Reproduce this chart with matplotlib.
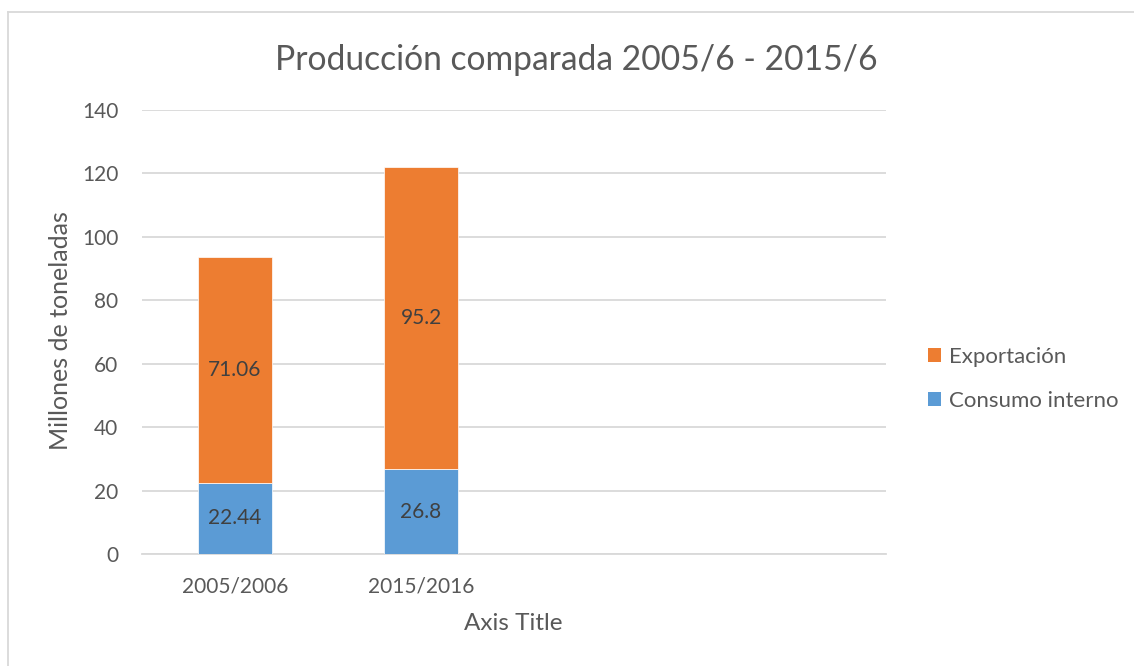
import matplotlib
matplotlib.use("Agg")
import matplotlib.pyplot as plt
from matplotlib.patches import Patch
from matplotlib.lines import Line2D

categories = ["2005/2006", "2015/2016", "", ""]
consumo = [22.44, 26.8]
exportacion = [71.06, 95.2]
yticks = [0, 20, 40, 60, 80, 100, 120, 140]

plt.rcParams['font.family'] = ['Lato', 'DejaVu Sans']
txt = '#595959'
blue = '#5B9BD5'
orange = '#ED7D31'

fig = plt.figure(figsize=(11.34, 6.66), dpi=100)
ax = fig.add_axes([142/1134, 1-554/666, (886-142)/1134, (554-110)/666])

x = list(range(len(consumo)))
ax.bar(x, consumo, width=0.40, color=blue, edgecolor='white', linewidth=0.5, zorder=3)
ax.bar(x, exportacion, bottom=consumo, width=0.40, color=orange, edgecolor='white', linewidth=0.5, zorder=3)

for i in x:
    ax.text(i, consumo[i]/2, f"{consumo[i]:g}", ha='center', va='center', fontsize=15, color='#404040', zorder=4)
    ax.text(i, consumo[i] + exportacion[i]/2, f"{exportacion[i]:g}", ha='center', va='center', fontsize=15, color='#404040', zorder=4)

ax.set_xlim(-0.5, len(categories)-0.5)
ax.set_ylim(0, 140)
ax.set_yticks(yticks)
ax.set_xticks(range(len(categories)))
ax.set_xticklabels(categories)
ax.yaxis.grid(True, color='#D9D9D9', linewidth=1.3, zorder=0)
ax.set_axisbelow(True)
for s in ['top', 'right', 'left']:
    ax.spines[s].set_visible(False)
ax.spines['bottom'].set_color('#D9D9D9')
ax.spines['bottom'].set_linewidth(1.3)
ax.tick_params(axis='both', length=0, labelsize=15, colors=txt)
ax.tick_params(axis='y', pad=17)
ax.tick_params(axis='x', pad=16.5)

fig.text(60/1134, 1-331/666, "Millones de toneladas", rotation=90, ha='center', va='center', fontsize=18, color=txt)
fig.text(513/1134, 1-624/666, "Axis Title", ha='center', va='center', fontsize=17.5, color=txt)

fig.text(576/1134, 1-60/666, "Producción comparada 2005/6 - 2015/6", ha='center', va='center', fontsize=24.2, color=txt)

handles = [Patch(facecolor=orange, label='Exportación'), Patch(facecolor=blue, label='Consumo interno')]
fig.legend(handles=handles, loc='center left', bbox_to_anchor=(910/1134, 1-379/666), frameon=False,
           fontsize=16, labelcolor=txt, handlelength=0.6, handleheight=0.6, handletextpad=0.35, labelspacing=1.1,
           borderpad=0.3)

# chart border (top and left visible)
fig.add_artist(Line2D([8/1134, 1], [1-12/666, 1-12/666], color='#D9D9D9', linewidth=1.3))
fig.add_artist(Line2D([8/1134, 8/1134], [0, 1-12/666], color='#D9D9D9', linewidth=1.3))

fig.savefig("out.png", dpi=100)
